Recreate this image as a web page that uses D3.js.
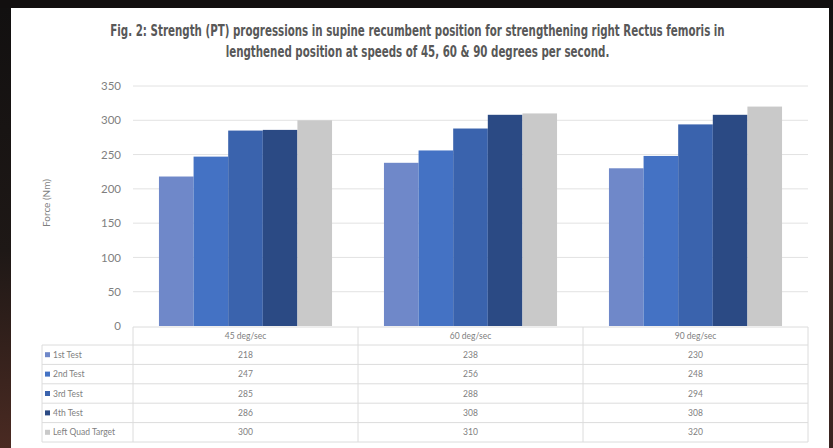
<!DOCTYPE html>
<html>
<head>
<meta charset="utf-8">
<script src="https://cdn.jsdelivr.net/npm/d3@7"></script>
<style>
  html, body { margin: 0; padding: 0; background: #120f0f; }
  svg { display: block; }
</style>
</head>
<body>
<svg id="chart" width="833" height="448"></svg>
<script>
// Speeds tested (x categories)
const categories = ["45 deg/sec", "60 deg/sec", "90 deg/sec"];
// Series names in legend order
const seriesNames = ["1st Test", "2nd Test", "3rd Test", "4th Test", "Left Quad Target"];
// Peak torque per series, one value per speed
const test1 = [218, 238, 230];
const test2 = [247, 256, 248];
const test3 = [285, 288, 294];
const test4 = [286, 308, 308];
const quadTarget = [300, 310, 320];
const yTicks = [0, 50, 100, 150, 200, 250, 300, 350];
const titleLines = [
  "Fig. 2: Strength (PT) progressions in supine recumbent position for strengthening right Rectus femoris in",
  "lengthened position at speeds of 45, 60 & 90 degrees per second."
];
const yTitle = "Force (Nm)";

const seriesValues = [test1, test2, test3, test4, quadTarget];
const colors = ["#6f88c9", "#4472c4", "#3a63ad", "#2b4a84", "#c9c9c9"];

const svg = d3.select("#chart");

// Dark backdrop with a faint warm tint at the edges
const defs = svg.append("defs");
const gl = defs.append("linearGradient").attr("id", "edgeL").attr("x1", 0).attr("y1", 0).attr("x2", 0).attr("y2", 1);
gl.append("stop").attr("offset", "0%").attr("stop-color", "#121010");
gl.append("stop").attr("offset", "55%").attr("stop-color", "#1e1816");
gl.append("stop").attr("offset", "100%").attr("stop-color", "#4a2a22");
const gr = defs.append("linearGradient").attr("id", "edgeR").attr("x1", 0).attr("y1", 0).attr("x2", 0).attr("y2", 1);
gr.append("stop").attr("offset", "0%").attr("stop-color", "#121010");
gr.append("stop").attr("offset", "40%").attr("stop-color", "#3a2a22");
gr.append("stop").attr("offset", "100%").attr("stop-color", "#3b2420");

svg.append("rect").attr("width", 833).attr("height", 448).attr("fill", "#120f0f");
svg.append("rect").attr("x", 0).attr("y", 8).attr("width", 11).attr("height", 440).attr("fill", "url(#edgeL)");
svg.append("rect").attr("x", 829).attr("y", 8).attr("width", 4).attr("height", 440).attr("fill", "url(#edgeR)");
// White chart card
svg.append("rect").attr("x", 11).attr("y", 8).attr("width", 818).attr("height", 440).attr("fill", "#ffffff");

// Title: a condensed face, squeezed horizontally so the first line spans 110..725
const titleCx = 417.5, titleW = 615, titleYs = [36, 57];
const titleEls = titleLines.map((t, i) => {
  const g = svg.append("g");
  const el = g.append("text")
    .attr("x", 0).attr("y", 0)
    .attr("text-anchor", "middle")
    .attr("font-family", "'DejaVu Sans Condensed', 'DejaVu Sans', sans-serif")
    .attr("font-weight", "bold")
    .attr("font-stretch", "condensed")
    .attr("font-size", 15)
    .attr("fill", "#585858")
    .text(t);
  return { g, el, y: titleYs[i] };
});
const sx = titleW / titleEls[0].el.node().getComputedTextLength();
titleEls.forEach(o => o.g.attr("transform", `translate(${titleCx},${o.y}) scale(${sx.toFixed(4)},1)`));

// Scales
const plotLeft = 133, plotRight = 808;
const x = d3.scaleBand().domain(categories).range([plotLeft, plotRight]).paddingInner(0).paddingOuter(0);
const xInner = d3.scaleBand().domain(seriesNames).range([0, x.bandwidth()]).paddingInner(0).paddingOuter(0.75);
const y = d3.scaleLinear().domain([0, 350]).range([326, 86]);

// Gridlines
svg.append("g")
  .selectAll("line")
  .data(yTicks.filter(d => d > 0))
  .join("line")
  .attr("x1", plotLeft).attr("x2", plotRight)
  .attr("y1", d => y(d)).attr("y2", d => y(d))
  .attr("stroke", "#e2e2e2").attr("stroke-width", 1);

// Y axis labels
const yAxis = d3.axisLeft(y).tickValues(yTicks).tickSize(0).tickPadding(0);
const yG = svg.append("g").attr("transform", "translate(121,0)").call(yAxis);
yG.select(".domain").remove();
yG.selectAll("text")
  .attr("font-family", "Lato, 'Open Sans', sans-serif")
  .attr("font-size", 11.5)
  .attr("fill", "#7f7f7f");

svg.append("text")
  .attr("transform", "translate(50,203) rotate(-90)")
  .attr("text-anchor", "middle")
  .attr("font-family", "Lato, 'Open Sans', sans-serif")
  .attr("font-size", 10)
  .attr("fill", "#7f7f7f")
  .text(yTitle);

// Bars
const flat = [];
seriesNames.forEach((s, si) => {
  categories.forEach((c, ci) => flat.push({ series: s, si, cat: c, value: seriesValues[si][ci] }));
});
svg.append("g")
  .selectAll("rect")
  .data(flat)
  .join("rect")
  .attr("x", d => x(d.cat) + xInner(d.series))
  .attr("y", d => y(d.value))
  .attr("width", xInner.bandwidth())
  .attr("height", d => y(0) - y(d.value))
  .attr("fill", d => colors[d.si]);

// Data table below the axis
const tableTop = 327, headerBottom = 345, tableBottom = 442, legendLeft = 42;
const rowH = (tableBottom - headerBottom) / seriesNames.length;
const tbl = svg.append("g");
const lineColor = "#dcdcdc";
const txtFont = "Lato, 'Open Sans', sans-serif";

// horizontal lines
tbl.append("line").attr("x1", plotLeft).attr("x2", plotRight).attr("y1", tableTop).attr("y2", tableTop).attr("stroke", lineColor);
d3.range(seriesNames.length + 1).forEach(i => {
  const yy = headerBottom + i * rowH;
  tbl.append("line").attr("x1", legendLeft).attr("x2", plotRight).attr("y1", yy).attr("y2", yy).attr("stroke", lineColor);
});
// vertical lines
tbl.append("line").attr("x1", legendLeft).attr("x2", legendLeft).attr("y1", headerBottom).attr("y2", tableBottom).attr("stroke", lineColor);
[...categories.map(c => x(c)), plotRight].forEach(xx => {
  tbl.append("line").attr("x1", xx).attr("x2", xx).attr("y1", tableTop).attr("y2", tableBottom).attr("stroke", lineColor);
});

// header labels
tbl.selectAll("text.cat")
  .data(categories)
  .join("text")
  .attr("class", "cat")
  .attr("x", d => x(d) + x.bandwidth() / 2)
  .attr("y", (tableTop + headerBottom) / 2 + 3)
  .attr("text-anchor", "middle")
  .attr("font-family", txtFont).attr("font-size", 8.5).attr("fill", "#808080")
  .text(d => d);

// legend keys and names
seriesNames.forEach((s, si) => {
  const cy = headerBottom + si * rowH + rowH / 2;
  tbl.append("rect").attr("x", 45).attr("y", cy - 2.5).attr("width", 5).attr("height", 5).attr("fill", colors[si]);
  tbl.append("text").attr("x", 53).attr("y", cy + 3)
    .attr("font-family", txtFont).attr("font-size", 8.5).attr("fill", "#808080")
    .text(s);
  categories.forEach((c, ci) => {
    tbl.append("text")
      .attr("x", x(c) + x.bandwidth() / 2)
      .attr("y", cy + 3)
      .attr("text-anchor", "middle")
      .attr("font-family", txtFont).attr("font-size", 8.5).attr("fill", "#808080")
      .text(seriesValues[si][ci]);
  });
});
</script>
</body>
</html>
